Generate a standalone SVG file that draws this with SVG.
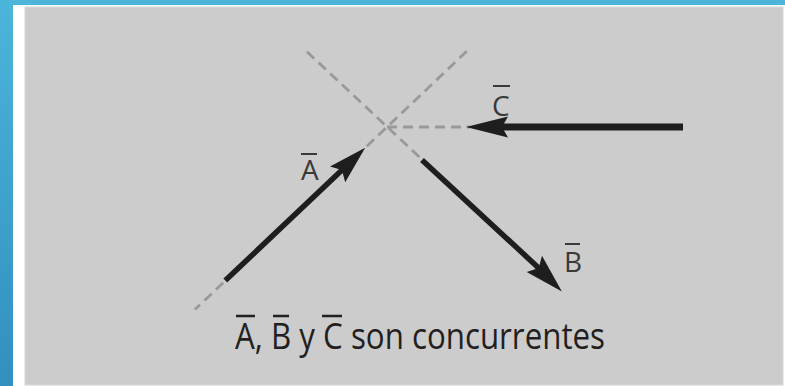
<svg xmlns="http://www.w3.org/2000/svg" width="785" height="386" viewBox="0 0 785 386">
  <defs>
    <linearGradient id="bg" x1="0" y1="0" x2="0" y2="1">
      <stop offset="0" stop-color="#4cb5da"/>
      <stop offset="1" stop-color="#328fbf"/>
    </linearGradient>
    <style>
      .dash { stroke: #999999; stroke-width: 2.8; stroke-dasharray: 10 6; fill: none; }
      .shaft { stroke: #1e1e1e; fill: none; stroke-linecap: butt; }
      .head { fill: #1e1e1e; }
      .lbl { font-family: "Open Sans", "Liberation Sans", sans-serif; font-size: 28px; fill: #3a3a3a; }
      .cap { font-family: "Open Sans", "Liberation Sans", sans-serif; font-size: 37px; fill: #231f20; }
      .ovl { stroke: #3a3a3a; stroke-width: 2; }
      .ovc { stroke: #231f20; stroke-width: 2.5; }
    </style>
  </defs>
  <rect x="0" y="0" width="785" height="386" fill="url(#bg)"/>
  <rect x="13" y="5" width="772" height="381" fill="#ffffff"/>
  <rect x="25" y="7" width="758" height="378" fill="#cccccc" stroke="#d6d6d6" stroke-width="1"/>

  <g id="connectors">
    <line class="dash" x1="466.8" y1="51.2" x2="194.9" y2="309.6"/>
    <line class="dash" x1="306.9" y1="51.7" x2="430" y2="167"/>
    <line class="dash" x1="387" y1="127" x2="470" y2="127"/>
  </g>

  <g id="vector-A">
    <line class="shaft" stroke-width="5.5" x1="225.3" y1="280.6" x2="343.3" y2="168.7"/>
    <polygon class="head" points="365.2,147.7 345.2,182.2 341.9,170.1 330,166.4"/>
    <text class="lbl" x="301" y="180">A</text>
    <line class="ovl" x1="301" y1="154" x2="317" y2="154"/>
  </g>

  <g id="vector-B">
    <line class="shaft" stroke-width="5.5" x1="422" y1="159.9" x2="540.2" y2="269.4"/>
    <polygon class="head" points="561.9,291.4 526.7,272 538.7,268 542,255.8"/>
    <text class="lbl" x="564" y="272">B</text>
    <line class="ovl" x1="565" y1="244" x2="580" y2="244"/>
  </g>

  <g id="vector-C">
    <line class="shaft" stroke-width="7" x1="683" y1="127" x2="495" y2="127"/>
    <polygon class="head" points="466,127 508,116.5 502,127 508,137.5"/>
    <text class="lbl" x="492" y="116">C</text>
    <line class="ovl" x1="493" y1="86" x2="510" y2="86"/>
  </g>

  <g id="caption">
    <text class="cap" x="235" y="349" textLength="370" lengthAdjust="spacingAndGlyphs">A, B y C son concurrentes</text>
    <line class="ovc" x1="236" y1="316" x2="255" y2="316"/>
    <line class="ovc" x1="273" y1="316" x2="289" y2="316"/>
    <line class="ovc" x1="322" y1="316" x2="342" y2="316"/>
  </g>
</svg>
